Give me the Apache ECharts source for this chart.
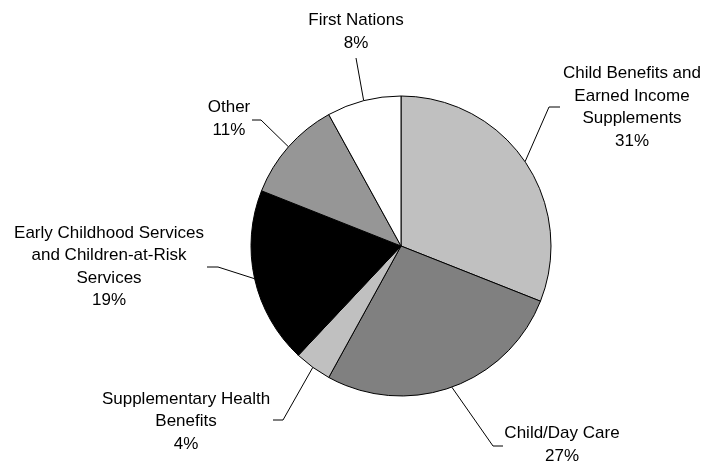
<!DOCTYPE html>
<html>
<head>
<meta charset="utf-8">
<script src="https://cdn.jsdelivr.net/npm/echarts@6/dist/echarts.min.js"></script>
<style>
html,body{margin:0;padding:0;background:#fff;}
#chart{width:704px;height:464px;}
</style>
</head>
<body>
<div id="chart"></div>
<script>
// Data
var categories = [
  'Child Benefits and\nEarned Income\nSupplements',
  'Child/Day Care',
  'Supplementary Health\nBenefits',
  'Early Childhood Services\nand Children-at-Risk\nServices',
  'Other',
  'First Nations'
];
var values = [31, 27, 4, 19, 11, 8];

// Styling / layout (not data)
var sliceColors = ['#c0c0c0', '#808080', '#c0c0c0', '#000000', '#969696', '#ffffff'];
// label center [x, y] and leader line elbow/end points
var labelPos = [
  {c: [632, 107.5], pts: [[549, 107], [560, 107]]},
  {c: [562, 445], pts: [[493, 446], [503, 446]]},
  {c: [186, 421.5], pts: [[283, 420], [273, 420]]},
  {c: [109, 267], pts: [[218, 267], [207, 267]]},
  {c: [229, 119], pts: [[261, 120], [252, 120]]},
  {c: [356, 32], pts: [[356, 58], [356, 58]]}
];

var chart = echarts.init(document.getElementById('chart'), null, {renderer: 'canvas'});
var seriesData = categories.map(function (n, i) {
  return {name: n, value: values[i], itemStyle: {color: sliceColors[i]}};
});

chart.setOption({
  backgroundColor: '#ffffff',
  animation: false,
  series: [{
    type: 'pie',
    center: [401, 246],
    radius: [0, 150],
    startAngle: 90,
    clockwise: true,
    avoidLabelOverlap: false,
    data: seriesData,
    itemStyle: {borderColor: '#000000', borderWidth: 1},
    emphasis: {disabled: true},
    label: {
      show: true,
      position: 'outside',
      color: '#000000',
      fontFamily: 'Liberation Sans, Arial, sans-serif',
      fontSize: 17,
      lineHeight: 22.5,
      align: 'center',
      formatter: function (p) { return p.name + '\n' + p.value + '%'; }
    },
    labelLine: {
      show: true,
      length: 20,
      length2: 10,
      lineStyle: {color: '#000000', width: 1}
    },
    labelLayout: function (params) {
      var lp = labelPos[params.dataIndex];
      var start = params.labelLinePoints ? params.labelLinePoints[0] : lp.pts[0];
      return {
        x: lp.c[0],
        y: lp.c[1],
        align: 'center',
        verticalAlign: 'middle',
        labelLinePoints: [start, lp.pts[0], lp.pts[1]]
      };
    }
  }]
});
</script>
</body>
</html>
